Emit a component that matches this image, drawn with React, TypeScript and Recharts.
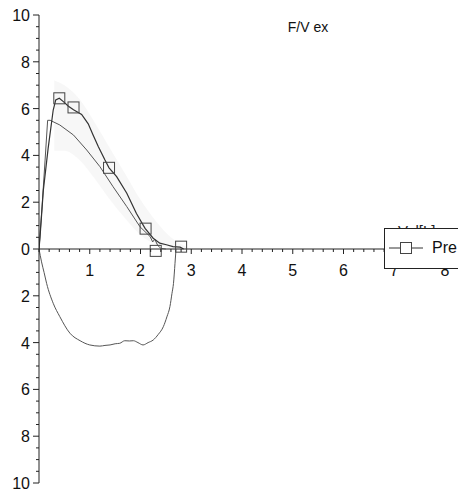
import React from 'react'
import { Area, ComposedChart, Line, ReferenceLine, Scatter, XAxis, YAxis } from 'recharts'

// expiratory curve, measured (Pre)
const preVol = [0, 0.02, 0.085, 0.18, 0.28, 0.33, 0.4, 0.48, 0.58, 0.68, 0.84, 0.97, 1.07, 1.17, 1.3, 1.38, 1.53, 1.73, 1.92, 2.09, 2.25, 2.38, 2.51, 2.64, 2.78, 2.85]
const preFlow = [0, 0.5, 2.5, 4.3, 5.94, 6.37, 6.44, 6.3, 6.1, 5.95, 5.75, 5.35, 4.85, 4.37, 3.8, 3.47, 3.09, 2.38, 1.52, 0.88, 0.46, 0.25, 0.18, 0.1, 0.08, 0]

// predicted expiratory curve
const predVol = [0, 0.06, 0.12, 0.17, 0.22, 0.41, 0.68, 0.94, 1.2, 1.46, 1.73, 1.99, 2.19, 2.24, 2.28, 2.34, 2.4, 2.5]
const predFlow = [0, 1.8, 3.8, 5.5, 5.5, 5.3, 4.87, 4.23, 3.52, 2.66, 1.81, 0.95, 0.53, 0.3, 0.42, 0.15, 0.03, 0]

// inspiratory curve (shown below zero)
const inspVol = [0, 0.05, 0.1, 0.15, 0.28, 0.41, 0.61, 0.81, 1.0, 1.2, 1.3, 1.4, 1.5, 1.59, 1.69, 1.78, 1.86, 1.95, 2.05, 2.15, 2.25, 2.35, 2.45, 2.52, 2.58, 2.62, 2.65, 2.68, 2.7]
const inspFlow = [0, -0.55, -1.0, -1.47, -2.32, -2.89, -3.6, -3.92, -4.1, -4.15, -4.12, -4.1, -4.05, -4.03, -3.92, -3.93, -3.92, -4.0, -4.1, -4.0, -3.89, -3.65, -3.32, -2.9, -2.46, -1.9, -1.47, -0.61, 0]

// faint normal range band
const bandVol = [0.3, 0.5, 0.8, 1.1, 1.4, 1.7, 2.0, 2.3, 2.6, 2.9]
const bandHigh = [7.2, 7.0, 6.4, 5.4, 4.3, 3.2, 2.1, 1.2, 0.5, 0.1]
const bandLow = [4.2, 4.2, 3.8, 3.0, 2.1, 1.3, 0.6, 0.2, 0.05, 0]

// square markers on the Pre curve
const markVol = [0.4, 0.68, 1.38, 2.1, 2.3, 2.8]
const markFlow = [6.44, 6.05, 3.47, 0.87, -0.08, 0.1]

const xLabels = [1, 2, 3, 4, 5, 6, 7, 8]
const yLabels = [-10, -8, -6, -4, -2, 0, 2, 4, 6, 8, 10]

const W = 458
const H = 493
const TOP = 15
const BOTTOM = 9
const XH = 1
const PLOT_H = H - TOP - BOTTOM - XH
const ZERO_Y = TOP + PLOT_H / 2
const FONT = '"Liberation Sans", Arial, sans-serif'

const xTicks: number[] = []
for (let i = 0; i <= 40; i++) xTicks.push(Math.round(i * 2) / 10)
const yTicks: number[] = []
for (let i = -20; i <= 20; i++) yTicks.push(i / 2)

const toPoints = (xs: number[], ys: number[]) => xs.map((x, i) => ({ x, y: ys[i] }))
const preData = toPoints(preVol, preFlow)
const predData = toPoints(predVol, predFlow)
const inspData = toPoints(inspVol, inspFlow)
const markData = toPoints(markVol, markFlow)
const bandData = bandVol.map((x, i) => ({ x, range: [bandLow[i], bandHigh[i]] }))

const XTick = (props: any) => {
  const { x, payload } = props
  const v = payload.value
  const major = xLabels.includes(v)
  return (
    <g>
      <line x1={x} x2={x} y1={ZERO_Y} y2={ZERO_Y + (major ? 5 : 3)} stroke="#222" />
      {major && (
        <text x={x} y={ZERO_Y + 27} textAnchor="middle" fontSize={16} fontFamily={FONT} fill="#111">
          {v}
        </text>
      )}
    </g>
  )
}

const YTick = (props: any) => {
  const { x, y, payload } = props
  const v = payload.value
  const major = yLabels.includes(v)
  return (
    <g>
      <line x1={x - (major ? 6 : 3)} x2={x} y1={y} y2={y} stroke="#222" />
      {major && (
        <text x={x - 9} y={y + 6} textAnchor="end" fontSize={16} fontFamily={FONT} fill="#111">
          {Math.abs(v)}
        </text>
      )}
    </g>
  )
}

const Square = (props: any) => {
  const { cx, cy } = props
  return <rect x={cx - 5.5} y={cy - 5.5} width={11} height={11} fill="none" stroke="#444" strokeWidth={1} />
}

export default function App() {
  return (
    <div style={{ position: 'absolute', left: 0, top: 0, width: W, height: H, background: '#fff' }}>
      <ComposedChart width={W} height={H} margin={{ top: TOP, right: 13, bottom: BOTTOM, left: 0 }}>
        <XAxis
          type="number"
          dataKey="x"
          domain={[0, 8]}
          ticks={xTicks}
          interval={0}
          height={XH}
          axisLine={false}
          tickLine={false}
          tick={<XTick />}
          allowDataOverflow
        />
        <YAxis
          type="number"
          domain={[-10, 10]}
          ticks={yTicks}
          interval={0}
          width={39}
          tickLine={false}
          tickSize={0}
          tickMargin={0}
          axisLine={{ stroke: '#222' }}
          tick={<YTick />}
        />
        <Area
          data={bandData}
          dataKey="range"
          type="monotone"
          stroke="none"
          fill="#d4d4d4"
          fillOpacity={0.18}
          isAnimationActive={false}
        />
        <ReferenceLine y={0} stroke="#222" />
        <Line data={predData} dataKey="y" type="linear" stroke="#555" strokeWidth={1} dot={false} isAnimationActive={false} />
        <Line data={inspData} dataKey="y" type="monotone" stroke="#555" strokeWidth={1} dot={false} isAnimationActive={false} />
        <Line data={preData} dataKey="y" type="linear" stroke="#333" strokeWidth={1.2} dot={false} isAnimationActive={false} />
        <Scatter data={markData} dataKey="y" shape={<Square />} isAnimationActive={false} />
        <text x={308} y={32} textAnchor="middle" fontSize={14} fontFamily={FONT} fill="#111">
          F/V ex
        </text>
      </ComposedChart>
      <div style={{ position: 'absolute', left: 398, top: 222, fontSize: 15, fontFamily: FONT, color: '#222' }}>
        Vol[L]
      </div>
      <div
        style={{
          position: 'absolute',
          left: 384,
          top: 228,
          width: 80,
          height: 41,
          boxSizing: 'border-box',
          border: '1px solid #222',
          background: '#fff',
          display: 'flex',
          alignItems: 'center',
          fontFamily: FONT,
          fontSize: 16,
          color: '#111',
        }}
      >
        <svg width={36} height={20} style={{ marginLeft: 3, marginTop: -2 }}>
          <line x1={1} x2={35} y1={10} y2={10} stroke="#333" />
          <rect x={12.5} y={4.5} width={11} height={11} fill="#fff" stroke="#444" />
        </svg>
        <span style={{ marginLeft: 8, marginTop: -2 }}>Pre</span>
      </div>
    </div>
  )
}
